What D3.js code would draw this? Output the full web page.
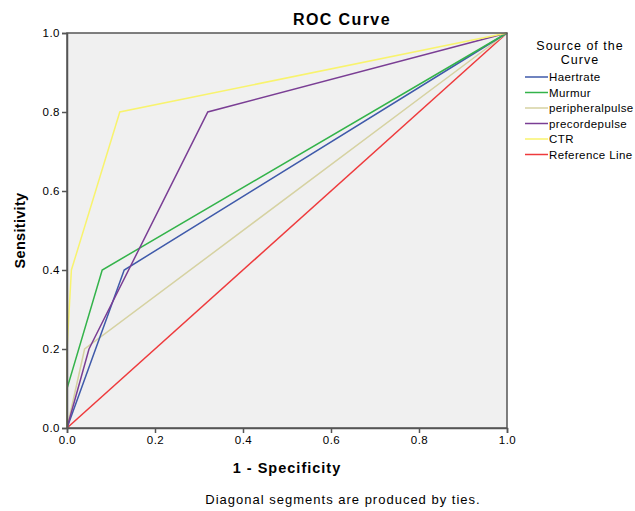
<!DOCTYPE html>
<html>
<head>
<meta charset="utf-8">
<script src="https://cdn.jsdelivr.net/npm/d3@7"></script>
<style>
  body { margin: 0; background: #fff; }
  text { font-family: "Liberation Sans", Arial, sans-serif; fill: #000; }
</style>
</head>
<body>
<div class="RocVis"></div>
<script>
// curve names and colours
var curveNames = ["Haertrate", "Murmur", "peripheralpulse", "precordepulse", "CTR", "Reference Line"];
var curveColors = ["#3f5aaa", "#33b34a", "#d6d2a2", "#7a3e94", "#f8f36e", "#ee3a3c"];

// points of each curve, [1 - specificity, sensitivity]
var haertrate = [[0, 0], [0.13, 0.4], [1, 1]];
var murmur = [[0, 0], [0, 0.1], [0.08, 0.4], [1, 1]];
var peripheral = [[0, 0], [0.04, 0.2], [1, 1]];
var precorde = [[0, 0], [0.05, 0.2], [0.32, 0.8], [1, 1]];
var ctr = [[0, 0], [0, 0.2], [0.01, 0.4], [0.12, 0.8], [1, 1]];
var refLine = [[0, 0], [1, 1]];
var curveData = [haertrate, murmur, peripheral, precorde, ctr, refLine];

var tickVals = [0, 0.2, 0.4, 0.6, 0.8, 1.0];

var W = 635, H = 511;
var pL = 67, pR = 507, pT = 33, pB = 428;

var x = d3.scaleLinear().domain([0, 1]).range([pL, pR]);
var y = d3.scaleLinear().domain([0, 1]).range([pB, pT]);

var svg = d3.select(".RocVis")
  .append("svg")
  .attr("width", W)
  .attr("height", H);

// plot background
svg.append("rect")
  .attr("x", pL).attr("y", pT)
  .attr("width", pR - pL).attr("height", pB - pT)
  .attr("fill", "#f0f0f0");

// curves
var line = d3.line()
  .x(function (d) { return x(d[0]); })
  .y(function (d) { return y(d[1]); });

// reference line first, others on top
var order = [5, 2, 0, 1, 3, 4];
order.forEach(function (i) {
  svg.append("path")
    .attr("d", line(curveData[i]))
    .attr("fill", "none")
    .attr("stroke", curveColors[i])
    .attr("stroke-width", 1.5);
});

// frame
svg.append("rect")
  .attr("x", pL).attr("y", pT)
  .attr("width", pR - pL).attr("height", pB - pT)
  .attr("fill", "none")
  .attr("stroke", "#555")
  .attr("stroke-width", 1.5);

var xAxis = svg.append("g")
  .attr("transform", "translate(0," + pB + ")")
  .call(d3.axisBottom(x).tickValues(tickVals).tickFormat(d3.format(".1f")).tickSize(5).tickPadding(3));
var yAxis = svg.append("g")
  .attr("transform", "translate(" + pL + ",0)")
  .call(d3.axisLeft(y).tickValues(tickVals).tickFormat(d3.format(".1f")).tickSize(5).tickPadding(2));

[xAxis, yAxis].forEach(function (g) {
  g.select(".domain").attr("stroke", "#555").attr("stroke-width", 1.5);
  g.selectAll(".tick line").attr("stroke", "#555").attr("stroke-width", 1.5);
  g.selectAll(".tick text")
    .attr("font-family", "Liberation Sans, Arial, sans-serif")
    .attr("font-size", 11.5)
    .attr("letter-spacing", 0.5)
    .attr("fill", "#222");
});

// titles
svg.append("text")
  .attr("x", 342).attr("y", 25)
  .attr("text-anchor", "middle")
  .attr("font-size", 16).attr("font-weight", "bold")
  .attr("letter-spacing", 1.4)
  .text("ROC Curve");

svg.append("text")
  .attr("x", 287).attr("y", 473)
  .attr("text-anchor", "middle")
  .attr("font-size", 14.5).attr("font-weight", "bold")
  .attr("letter-spacing", 1)
  .text("1 - Specificity");

svg.append("text")
  .attr("transform", "translate(25," + ((pT + pB) / 2) + ") rotate(-90)")
  .attr("text-anchor", "middle")
  .attr("font-size", 14.5).attr("font-weight", "bold")
  .attr("letter-spacing", 0.3)
  .text("Sensitivity");

svg.append("text")
  .attr("x", 343).attr("y", 504)
  .attr("text-anchor", "middle")
  .attr("font-size", 13)
  .attr("letter-spacing", 1)
  .text("Diagonal segments are produced by ties.");

// legend
var leg = svg.append("g");
leg.append("text")
  .attr("x", 580).attr("y", 50)
  .attr("text-anchor", "middle").attr("font-size", 12.5)
  .attr("letter-spacing", 1)
  .text("Source of the");
leg.append("text")
  .attr("x", 580).attr("y", 64)
  .attr("text-anchor", "middle").attr("font-size", 12.5)
  .attr("letter-spacing", 1)
  .text("Curve");

var items = leg.selectAll(".item")
  .data(curveNames)
  .enter().append("g")
  .attr("class", "item")
  .attr("transform", function (d, i) { return "translate(0," + (81 + i * 15.5) + ")"; });

items.append("line")
  .attr("x1", 525).attr("x2", 548)
  .attr("y1", -4).attr("y2", -4)
  .attr("stroke", function (d, i) { return curveColors[i]; })
  .attr("stroke-width", 1.5);
items.append("text")
  .attr("x", 549).attr("y", 0)
  .attr("font-size", 11.5)
  .attr("letter-spacing", 0.4)
  .text(function (d) { return d; });
</script>
</body>
</html>
